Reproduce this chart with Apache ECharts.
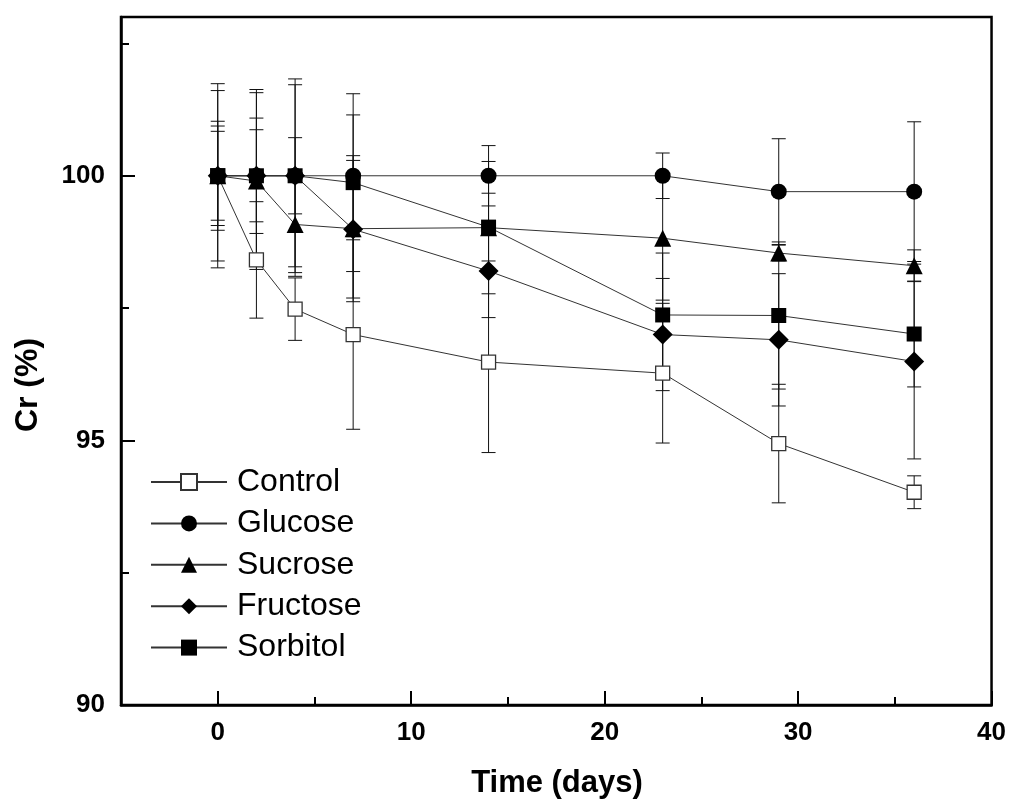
<!DOCTYPE html>
<html>
<head>
<meta charset="utf-8">
<script src="https://cdn.jsdelivr.net/npm/echarts@6/dist/echarts.min.js"></script>
<style>
html,body{margin:0;padding:0;background:#fff;}
#c{width:1009px;height:802px;}
</style>
</head>
<body>
<div id="c"></div>
<script>
// ---- data ----
const days = [0, 2, 4, 7, 14, 23, 29, 36];
const seriesNames = ['Control', 'Glucose', 'Sucrose', 'Fructose', 'Sorbitol'];

const control   = [100, 98.41, 97.48, 97.0, 96.48, 96.27, 94.94, 94.02];
const controlSd = [0.84, 1.10, 0.59, 1.79, 1.71, 1.32, 1.12, 0.31];

const glucose   = [100, 100, 100, 100, 100, 100, 99.70, 99.70];
const glucoseSd = [1.61, 1.63, 1.83, 1.15, 0.57, 0.43, 1.00, 1.32];

const sucrose   = [100, 99.9, 99.08, 99.0, 99.02, 98.82, 98.54, 98.3];
const sucroseSd = [1.74, 1.67, 0.98, 1.38, 1.25, 1.17, 0.15, 0.30];

const fructose   = [100, 100, 100, 98.99, 98.2, 97.0, 96.9, 96.49];
const fructoseSd = [0.94, 1.09, 1.72, 1.30, 0.88, 1.06, 1.25, 1.84];

const sorbitol   = [100, 100, 100, 99.87, 99.03, 97.37, 97.36, 97.01];
const sorbitolSd = [1.03, 0.87, 0.72, 1.68, 0.64, 1.17, 1.39, 1.00];

const xMajorTicks = [0, 10, 20, 30, 40];
const xMinorTicks = [5, 15, 25, 35];
const yMajorTicks = [90, 95, 100];
const yMinorTicks = [92.5, 97.5, 102.5];

// ---- build ----
const FONT = 'Liberation Sans, Arial, sans-serif';
const means = [control, glucose, sucrose, fructose, sorbitol];
const sds = [controlSd, glucoseSd, sucroseSd, fructoseSd, sorbitolSd];
const symbols = ['rect', 'circle', 'triangle', 'diamond', 'rect'];
const sizes = [14, 16, 17, 20, 15];

function errSeries(i) {
  return {
    type: 'custom',
    name: seriesNames[i] + ' err',
    xAxisIndex: 0, yAxisIndex: 0,
    z: 1, silent: true,
    data: days.map((d, k) => [d, means[i][k] - sds[i][k], means[i][k] + sds[i][k]]),
    encode: {x: 0, y: [1, 2]},
    renderItem: function (params, api) {
      const x = api.value(0);
      const lo = api.coord([x, api.value(1)]);
      const hi = api.coord([x, api.value(2)]);
      const hw = 7;
      const st = {stroke: '#111', lineWidth: 1, fill: null};
      return {type: 'group', children: [
        {type: 'line', shape: {x1: lo[0], y1: lo[1], x2: hi[0], y2: hi[1]}, style: st},
        {type: 'line', shape: {x1: lo[0] - hw, y1: lo[1], x2: lo[0] + hw, y2: lo[1]}, style: st},
        {type: 'line', shape: {x1: hi[0] - hw, y1: hi[1], x2: hi[0] + hw, y2: hi[1]}, style: st}
      ]};
    }
  };
}

function lineSeries(i) {
  const isControl = i === 0;
  return {
    type: 'line',
    name: seriesNames[i],
    xAxisIndex: 0, yAxisIndex: 0,
    z: 3,
    data: days.map((d, k) => [d, means[i][k]]),
    symbol: symbols[i],
    symbolSize: sizes[i],
    showAllSymbol: true,
    lineStyle: {color: '#333', width: 1},
    itemStyle: isControl
      ? {color: '#fff', borderColor: '#333', borderWidth: 1.3}
      : {color: '#000', borderWidth: 0},
    emphasis: {disabled: true}
  };
}

const series = [];
for (let i = 0; i < 5; i++) series.push(errSeries(i));
for (let i = 0; i < 5; i++) series.push(lineSeries(i));

const option = {
  animation: false,
  backgroundColor: '#fff',
  grid: {left: 121, right: 16, top: 17, bottom: 97, show: true, borderColor: '#000', borderWidth: 2.5, backgroundColor: 'transparent'},
  legend: {
    data: seriesNames,
    orient: 'vertical',
    left: 150, top: 466,
    padding: 0,
    itemWidth: 76, itemHeight: 20, itemGap: 9.4,
    selectedMode: false,
    textStyle: {fontFamily: FONT, fontSize: 32, lineHeight: 32, color: '#000', padding: [0, 0, 0, 5]}
  },
  xAxis: [{
    type: 'value', min: -5, max: 40, position: 'bottom',
    axisLine: {show: true, onZero: false, lineStyle: {color: '#000', width: 2.5}},
    axisTick: {show: true, inside: true, length: 14, customValues: xMajorTicks, lineStyle: {color: '#000', width: 2}},
    axisLabel: {show: true, customValues: xMajorTicks, margin: 15, fontFamily: FONT, fontSize: 26, fontWeight: 'bold', color: '#000'},
    splitLine: {show: false}
  }, {
    type: 'value', min: -5, max: 40, position: 'bottom',
    axisLine: {show: false, onZero: false},
    axisTick: {show: true, inside: true, length: 8, customValues: xMinorTicks, lineStyle: {color: '#000', width: 2}},
    axisLabel: {show: false},
    splitLine: {show: false}
  }],
  yAxis: [{
    type: 'value', min: 90, max: 103, position: 'left',
    axisLine: {show: true, onZero: false, lineStyle: {color: '#000', width: 2.5}},
    axisTick: {show: true, inside: true, length: 14, customValues: yMajorTicks, lineStyle: {color: '#000', width: 2}},
    axisLabel: {show: true, customValues: yMajorTicks, margin: 16, fontFamily: FONT, fontSize: 26, fontWeight: 'bold', color: '#000'},
    splitLine: {show: false}
  }, {
    type: 'value', min: 90, max: 103, position: 'left',
    axisLine: {show: false, onZero: false},
    axisTick: {show: true, inside: true, length: 8, customValues: yMinorTicks, lineStyle: {color: '#000', width: 2}},
    axisLabel: {show: false},
    splitLine: {show: false}
  }],
  graphic: [{
    type: 'text', x: 557, y: 783,
    style: {text: 'Time (days)', fontFamily: FONT, fontSize: 31, fontWeight: 'bold', fill: '#000', align: 'center', verticalAlign: 'middle'}
  }, {
    type: 'text', x: 28, y: 385, rotation: Math.PI / 2,
    style: {text: 'Cr (%)', fontFamily: FONT, fontSize: 32, fontWeight: 'bold', fill: '#000', align: 'center', verticalAlign: 'middle'}
  }],
  series: series
};

const chart = echarts.init(document.getElementById('c'), null, {renderer: 'canvas'});
chart.setOption(option);
</script>
</body>
</html>
